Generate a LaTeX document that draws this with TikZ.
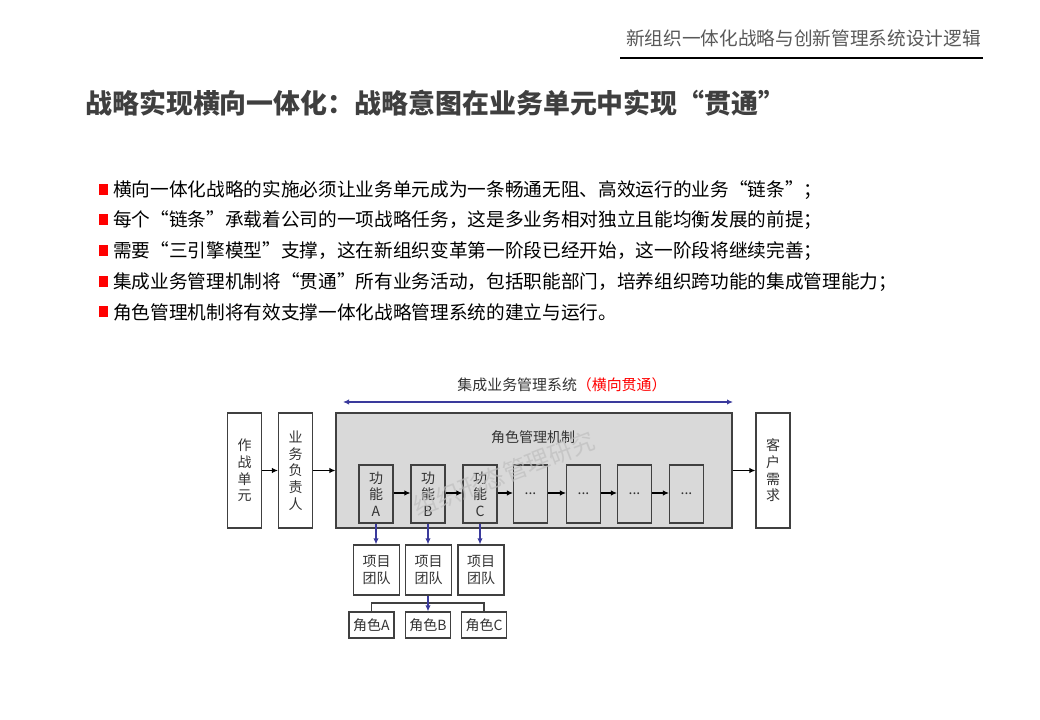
\documentclass[tikz,border=0pt]{standalone}
\usepackage{fontspec}
\setmainfont{Noto Sans CJK SC}
\newfontfamily\cjk{Noto Sans CJK SC}
\usetikzlibrary{arrows.meta}
\definecolor{boxgray}{HTML}{D9D9D9}
\definecolor{linegray}{HTML}{404040}
\definecolor{hdrgray}{HTML}{595959}
\definecolor{titlegray}{HTML}{3F3F3F}
\definecolor{navy}{HTML}{3A3A9C}
\definecolor{bred}{HTML}{FF0000}
\tikzset{
  diag/.style={font=\fontsize{10.5}{12.5}\selectfont, text=black!80},
  plainbox/.style={draw=linegray, line width=0.8pt, fill=white, inner sep=0pt, align=center, diag},
  vbox/.style={plainbox, minimum width=34*0.75pt, minimum height=115*0.75pt},
  fbox/.style={draw=linegray, line width=0.8pt, fill=boxgray, inner sep=0pt, align=center, diag, minimum width=34*0.75pt, minimum height=58*0.75pt},
  teambox/.style={plainbox, minimum width=46*0.75pt, minimum height=50*0.75pt},
  rolebox/.style={plainbox, minimum width=45*0.75pt, minimum height=26*0.75pt},
  flow/.style={-{Latex[length=4.5pt,width=4pt]}, line width=0.8pt, black},
  blueflow/.style={-{Latex[length=4.5pt,width=4pt]}, line width=0.9pt, navy},
  bullet/.style={fill=bred, minimum width=9*0.75pt, minimum height=11*0.75pt, inner sep=0pt},
  btext/.style={anchor=west, inner sep=0pt, font=\fontsize{14}{16}\selectfont, text=black}
}
\begin{document}
\begin{tikzpicture}[x=0.75pt, y=-0.75pt]
\useasboundingbox (0,0) rectangle (1040,720);
\fill[white] (0,0) rectangle (1040,720);

% header
\node[anchor=east, inner sep=0pt, font=\fontsize{14}{16}\selectfont, text=hdrgray] (hdr) at (981,38) {新组织一体化战略与创新管理系统设计逻辑};
\coordinate (hl) at (620,58);
\coordinate (hr) at (983,58);
\draw[line width=1.6pt, black] (hl) -- (hr);

% title
\node[anchor=west, inner sep=0pt, font=\fontsize{20.2}{22}\selectfont\bfseries, text=titlegray] (title) at (85,103) {战略实现横向一体化：战略意图在业务单元中实现“贯通”};

% bullets
\node[bullet] (b1) at (103,190) {};
\node[btext] (t1) at (113,190) {横向一体化战略的实施必须让业务单元成为一条畅通无阻、高效运行的业务“链条”；};
\node[bullet] (b2) at (103,220) {};
\node[btext] (t2) at (113,220) {每个“链条”承载着公司的一项战略任务，这是多业务相对独立且能均衡发展的前提；};
\node[bullet] (b3) at (103,251) {};
\node[btext] (t3) at (113,251) {需要“三引擎模型”支撑，这在新组织变革第一阶段已经开始，这一阶段将继续完善；};
\node[bullet] (b4) at (103,282) {};
\node[btext] (t4) at (113,282) {集成业务管理机制将“贯通”所有业务活动，包括职能部门，培养组织跨功能的集成管理能力；};
\node[bullet] (b5) at (103,312) {};
\node[btext] (t5) at (113,312) {角色管理机制将有效支撑一体化战略管理系统的建立与运行。};

% system label and double arrow
\node[inner sep=0pt, font=\fontsize{11.2}{13}\selectfont, text=black!80] (sys) at (562,385) {集成业务管理系统\textcolor{bred}{（横向贯通）}};
\coordinate (dl) at (343,402);
\coordinate (dr) at (733,402);
\draw[{Latex[length=4.5pt,width=4pt]}-{Latex[length=4.5pt,width=4pt]}, line width=1pt, navy] (dl) -- (dr);

% main boxes
\node[vbox] (zz) at (244.5,470.5) {作\\战\\单\\元};
\node[vbox] (yw) at (295.5,470.5) {业\\务\\负\\责\\人};
\node[draw=linegray, line width=0.8pt, fill=boxgray, minimum width=396*0.75pt, minimum height=115*0.75pt, inner sep=0pt] (big) at (534,470.5) {};
\node[vbox] (kh) at (773,470.5) {客\\户\\需\\求};
\node[diag, inner sep=0pt] (js) at (533,437) {角色管理机制};

% function boxes
\node[fbox] (f1) at (376,494) {功\\能\\A};
\node[fbox] (f2) at (428,494) {功\\能\\B};
\node[fbox] (f3) at (480,494) {功\\能\\C};
\node[fbox] (f4) at (530.5,494) {...};
\node[fbox] (f5) at (583.5,494) {...};
\node[fbox] (f6) at (634.5,494) {...};
\node[fbox] (f7) at (686.5,494) {...};

% watermark
\node[rotate=21, inner sep=0pt, font=\fontsize{18}{20}\selectfont, text=black!25, text opacity=0.7] (wm) at (504,474) {组织形态管理研究};

% flow arrows
\draw[flow] (zz.east) -- (yw.west);
\draw[flow] (yw.east) -- (big.west);
\draw[flow] (big.east) -- (kh.west);
\draw[flow] (f1.east |- 0,493) -- (f2.west |- 0,493);
\draw[flow] (f2.east |- 0,493) -- (f3.west |- 0,493);
\draw[flow] (f3.east |- 0,493) -- (f4.west |- 0,493);
\draw[flow] (f4.east |- 0,493) -- (f5.west |- 0,493);
\draw[flow] (f5.east |- 0,493) -- (f6.west |- 0,493);
\draw[flow] (f6.east |- 0,493) -- (f7.west |- 0,493);

% project teams
\node[teambox] (p1) at (376.5,570) {项目\\团队};
\node[teambox] (p2) at (428.5,570) {项目\\团队};
\node[teambox] (p3) at (481,570) {项目\\团队};
\draw[blueflow] (f1.south) -- (f1.south |- p1.north);
\draw[blueflow] (f2.south) -- (f2.south |- p2.north);
\draw[blueflow] (f3.south) -- (f3.south |- p3.north);

% roles
\node[rolebox] (r1) at (371.5,625) {角色A};
\node[rolebox] (r2) at (428,625) {角色B};
\node[rolebox] (r3) at (484,625) {角色C};
\coordinate (br) at (428,603);
\draw[line width=0.8pt, linegray] (r1.north) |- (br) -| (r3.north);
\draw[blueflow] (p2.south -| r2.north) -- (r2.north);
\end{tikzpicture}
\end{document}
